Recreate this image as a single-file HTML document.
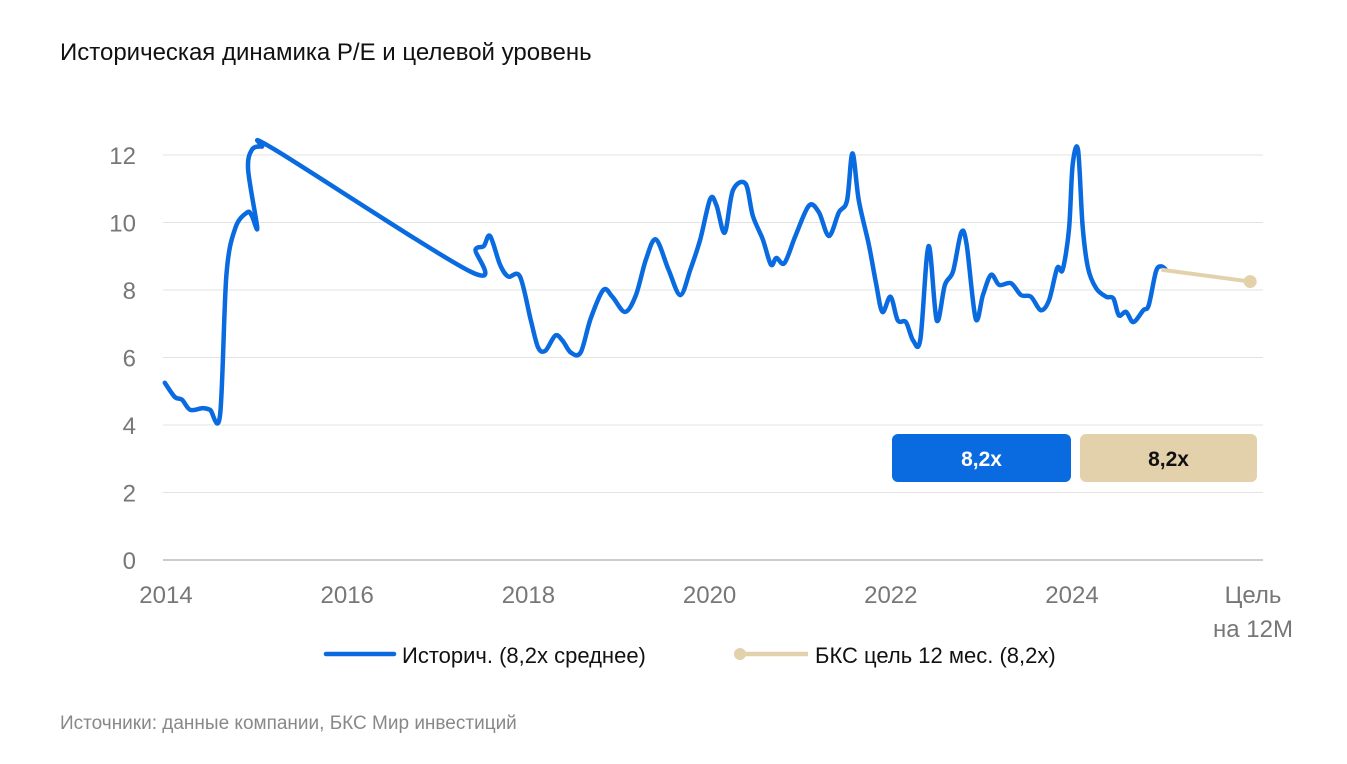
<!DOCTYPE html>
<html><head><meta charset="utf-8">
<style>
body{margin:0;background:#fff;font-family:"Liberation Sans","Noto Sans CJK SC",sans-serif;}
svg text{font-family:"Liberation Sans","Noto Sans CJK SC",sans-serif;}
</style></head>
<body>
<svg id="chart" width="1347" height="759">
<text x="60" y="60" font-size="24" fill="#111">Историческая динамика P/E и целевой уровень</text>
<g id="grid"></g><g id="ylab"></g><g id="xlab"></g>
<path id="hist" fill="none" stroke="#0a6be0" stroke-width="4.5" stroke-linejoin="round" stroke-linecap="round"/>
<g id="target"></g>
<rect x="892" y="434" width="179" height="48" rx="6" fill="#0a6be0"/>
<text x="981.5" y="466" font-size="21" font-weight="bold" fill="#fff" text-anchor="middle">8,2x</text>
<rect x="1080" y="434" width="177" height="48" rx="6" fill="#e3d1ac"/>
<text x="1168.5" y="466" font-size="21" font-weight="bold" fill="#111" text-anchor="middle">8,2x</text>
<g>
<line x1="326" y1="654" x2="394" y2="654" stroke="#0a6be0" stroke-width="4.5" stroke-linecap="round"/>
<text x="402" y="663" font-size="22" fill="#111">Историч. (8,2x среднее)</text>
<line x1="740" y1="654" x2="808" y2="654" stroke="#e3d1ac" stroke-width="4.5"/>
<circle cx="740" cy="654" r="6" fill="#e3d1ac"/>
<text x="815" y="663" font-size="22" fill="#111">БКС цель 12 мес. (8,2x)</text>
</g>
<text x="60" y="729" font-size="19" fill="#888">Источники: данные компании, БКС Мир инвестиций</text>
</svg>
<script>
const yTicks=[0,2,4,6,8,10,12];
const xTicks=[2014,2016,2018,2020,2022,2024];
const histYears=[2014.02,2014.13,2014.21,2014.30,2014.44,2014.52,2014.63,2014.70,2014.80,2014.93,2014.98,2015.04,2014.94,2014.98,2015.09,2015.24,2017.39,2017.45,2017.54,2017.61,2017.72,2017.81,2017.94,2018.06,2018.14,2018.22,2018.33,2018.41,2018.50,2018.61,2018.72,2018.86,2018.96,2019.10,2019.22,2019.33,2019.44,2019.58,2019.71,2019.82,2019.93,2020.04,2020.11,2020.20,2020.29,2020.43,2020.51,2020.62,2020.71,2020.77,2020.86,2020.98,2021.13,2021.24,2021.35,2021.46,2021.55,2021.61,2021.68,2021.79,2021.87,2021.94,2022.03,2022.11,2022.20,2022.28,2022.36,2022.45,2022.54,2022.63,2022.72,2022.81,2022.87,2022.97,2023.05,2023.14,2023.23,2023.36,2023.47,2023.58,2023.69,2023.78,2023.87,2023.93,2024.00,2024.04,2024.10,2024.15,2024.21,2024.30,2024.41,2024.49,2024.55,2024.63,2024.71,2024.82,2024.88,2024.96,2025.02,2025.07];
const histPE=[5.25,4.83,4.75,4.45,4.5,4.45,4.3,8.45,9.85,10.3,10.2,9.85,11.55,12.15,12.25,12.15,8.55,9.2,9.3,9.6,8.75,8.4,8.4,7.1,6.3,6.2,6.65,6.5,6.15,6.15,7.15,8.0,7.8,7.35,7.85,8.9,9.5,8.6,7.85,8.6,9.5,10.7,10.5,9.7,10.95,11.15,10.2,9.5,8.75,8.95,8.8,9.6,10.5,10.3,9.6,10.3,10.65,12.05,10.65,9.35,8.2,7.35,7.8,7.1,7.05,6.5,6.55,9.3,7.1,8.15,8.55,9.7,9.35,7.15,7.85,8.45,8.15,8.2,7.85,7.8,7.4,7.7,8.65,8.6,9.8,11.7,12.15,9.9,8.65,8.05,7.8,7.75,7.25,7.35,7.05,7.4,7.55,8.55,8.7,8.6];
const targetYears=[2025.02,2026.0];
const targetPE=[8.6,8.25];
const X=y=>163+90.6*(y-2014), Y=v=>560-33.75*v;
const ns="http://www.w3.org/2000/svg";
function mk(t,a,p){const e=document.createElementNS(ns,t);for(const k in a)e.setAttribute(k,a[k]);p.appendChild(e);return e;}
const grid=document.getElementById('grid'),yl=document.getElementById('ylab'),xl=document.getElementById('xlab');
yTicks.forEach(v=>{const l=mk('line',{x1:163,x2:1263,y1:Y(v),y2:Y(v),stroke:v==0?'#ccc':'#e3e3e3','stroke-width':v==0?2:1},grid);


const t=mk('text',{x:136,y:Y(v)+9,'font-size':24,fill:'#777','text-anchor':'end'},yl);t.textContent=v;

});
xTicks.forEach(v=>{const t=mk('text',{x:X(v)+3,y:603,'font-size':24,fill:'#777','text-anchor':'middle'},xl);t.textContent=v;

});
const c=mk('text',{x:1253,y:603,'font-size':24,fill:'#777','text-anchor':'middle'},xl);c.textContent='Цель';


const c2=mk('text',{x:1253,y:637,'font-size':24,fill:'#777','text-anchor':'middle'},xl);c2.textContent='на 12М';


const pts=histYears.map((y,i)=>[X(y),Y(histPE[i])]);
let d='M'+pts[0][0]+','+pts[0][1];
for(let i=0;i<pts.length-1;i++){const p0=pts[Math.max(0,i-1)],p1=pts[i],p2=pts[i+1],p3=pts[Math.min(pts.length-1,i+2)];const k=0.16;
d+=`C${p1[0]+(p2[0]-p0[0])*k},${p1[1]+(p2[1]-p0[1])*k} ${p2[0]-(p3[0]-p1[0])*k},${p2[1]-(p3[1]-p1[1])*k} ${p2[0]},${p2[1]}`;}
document.getElementById('hist').setAttribute('d',d);
const tg=document.getElementById('target');
const tl=mk('line',{x1:X(targetYears[0]),y1:Y(targetPE[0]),x2:X(targetYears[1]),y2:Y(targetPE[1]),stroke:'#e3d1ac','stroke-width':4},tg);


const tc=mk('circle',{cx:X(targetYears[1]),cy:Y(targetPE[1]),r:6.5,fill:'#e3d1ac'},tg);


</script>
</body></html>
